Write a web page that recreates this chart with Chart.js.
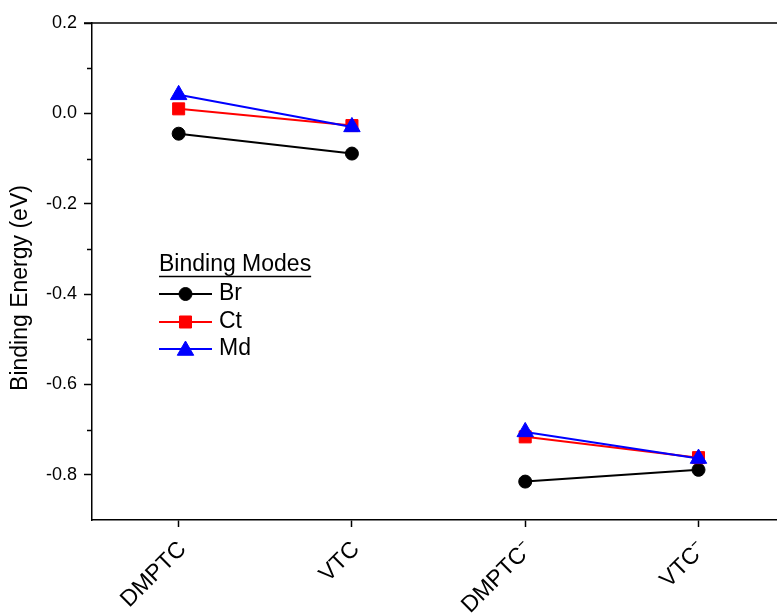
<!DOCTYPE html>
<html>
<head>
<meta charset="utf-8">
<script src="https://cdn.jsdelivr.net/npm/chart.js@4.4.1/dist/chart.umd.min.js"></script>
<style>
  html, body { margin: 0; padding: 0; background: #ffffff; }
  #wrap { width: 777px; height: 613px; }
</style>
</head>
<body>
<div id="wrap"><canvas id="chart" width="777" height="613"></canvas></div>
<script>
// Molecules on the horizontal axis
const categories = ['DMPTC', 'VTC', 'DMPTC\u207B', 'VTC\u207B'];
// Binding energies (eV) for each binding mode
const brValues = [-0.045, -0.089, -0.815, -0.789];
const ctValues = [0.010, -0.027, -0.716, -0.762];
const mdValues = [0.041, -0.030, -0.705, -0.764];
// Labelled and minor tick values on the energy axis
const yMajorTicks = [-0.8, -0.6, -0.4, -0.2, 0.0, 0.2];
const yMinorTicks = [-0.7, -0.5, -0.3, -0.1, 0.1];
const yTitle = 'Binding Energy (eV)';
const legendTitle = 'Binding Modes';

const FONT = '"Liberation Sans", Arial, sans-serif';

// Neutral and anion pairs are joined separately, so a gap sits between them
function toPoints(values) {
  return [
    { x: 0, y: values[0] },
    { x: 1, y: values[1] },
    { x: 1.5, y: null },
    { x: 2, y: values[2] },
    { x: 3, y: values[3] }
  ];
}

// Later series are painted over earlier ones
const series = [
  { label: 'Br', values: brValues, color: '#000000', style: 'circle', radius: 6.5, order: 3 },
  { label: 'Ct', values: ctValues, color: '#ff0000', style: 'rect', radius: 8.5, order: 2 },
  { label: 'Md', values: mdValues, color: '#0000ff', style: 'triangle', radius: 9.5, order: 1 }
];

// Frame line along the top, minor ticks, axis title and the legend block
const decorations = {
  id: 'decorations',
  afterDraw(chart) {
    const ctx = chart.ctx;
    const area = chart.chartArea;
    const y = chart.scales.y;
    ctx.save();
    ctx.strokeStyle = '#000000';
    ctx.lineWidth = 1.5;
    ctx.beginPath();
    ctx.moveTo(area.left - 8, area.top);
    ctx.lineTo(area.right, area.top);
    ctx.stroke();
    yMinorTicks.forEach(v => {
      const py = Math.round(y.getPixelForValue(v)) + 0.5;
      ctx.beginPath();
      ctx.moveTo(area.left - 5, py);
      ctx.lineTo(area.left, py);
      ctx.stroke();
    });

    // axis title
    ctx.save();
    ctx.translate(21, 288);
    ctx.rotate(-Math.PI / 2);
    ctx.fillStyle = '#000000';
    ctx.font = '23px ' + FONT;
    ctx.textAlign = 'center';
    ctx.textBaseline = 'middle';
    ctx.fillText(yTitle, 0, 0);
    ctx.restore();

    // legend
    const lx = 159, lw = 53, tx = 219;
    ctx.fillStyle = '#000000';
    ctx.font = '23px ' + FONT;
    ctx.textBaseline = 'middle';
    ctx.textAlign = 'left';
    ctx.fillText(legendTitle, lx, 265);
    const tw = ctx.measureText(legendTitle).width;
    ctx.strokeStyle = '#000000';
    ctx.lineWidth = 1.3;
    ctx.beginPath();
    ctx.moveTo(lx, 276.5);
    ctx.lineTo(lx + tw, 276.5);
    ctx.stroke();
    const rows = [294, 322, 349];
    chart.data.datasets.forEach((ds, i) => {
      const ry = rows[i];
      ctx.strokeStyle = ds.borderColor;
      ctx.fillStyle = ds.backgroundColor;
      ctx.lineWidth = 2;
      ctx.beginPath();
      ctx.moveTo(lx, ry);
      ctx.lineTo(lx + lw, ry);
      ctx.stroke();
      ctx.lineWidth = 1;
      Chart.helpers.drawPoint(ctx, {
        pointStyle: ds.pointStyle,
        radius: ds.pointRadius,
        borderWidth: 1,
        rotation: 0
      }, lx + lw / 2, ry + (ds.pointStyle === 'triangle' ? 1.5 : 0));
      ctx.fillStyle = '#000000';
      ctx.fillText(ds.label, tx, ry);
    });
    ctx.restore();
  }
};

new Chart(document.getElementById('chart'), {
  type: 'line',
  data: {
    datasets: series.map(s => ({
      label: s.label,
      data: toPoints(s.values),
      order: s.order,
      borderColor: s.color,
      backgroundColor: s.color,
      borderWidth: 2,
      pointStyle: s.style,
      pointRadius: s.radius,
      pointBorderWidth: 1,
      pointBackgroundColor: s.color,
      pointBorderColor: s.color,
      spanGaps: false,
      tension: 0
    }))
  },
  options: {
    responsive: false,
    animation: false,
    devicePixelRatio: 1,
    layout: { autoPadding: false, padding: { top: 23, right: 0, left: 0, bottom: 0 } },
    plugins: { legend: { display: false }, tooltip: { enabled: false } },
    scales: {
      x: {
        type: 'linear',
        min: -0.5,
        max: 3.453,
        afterBuildTicks: scale => { scale.ticks = categories.map((_, i) => ({ value: i })); },
        afterFit: scale => { scale.height = 93; scale.paddingLeft = 0; scale.paddingRight = 0; },
        grid: { drawOnChartArea: false, drawTicks: true, tickLength: 7, tickWidth: 1.5, tickColor: '#000000' },
        border: { display: true, color: '#000000', width: 1.5 },
        ticks: {
          autoSkip: false,
          minRotation: 45,
          maxRotation: 45,
          padding: 9,
          labelOffset: 4,
          color: '#000000',
          font: { family: FONT, size: 23 },
          callback: v => categories[v]
        }
      },
      y: {
        type: 'linear',
        min: -0.9,
        max: 0.2,
        afterBuildTicks: scale => { scale.ticks = yMajorTicks.map(v => ({ value: v })); },
        afterFit: scale => { scale.width = 92; },
        grid: { drawOnChartArea: false, drawTicks: true, tickLength: 8, tickWidth: 1.5, tickColor: '#000000' },
        border: { display: true, color: '#000000', width: 1.5 },
        ticks: {
          padding: 7,
          color: '#000000',
          font: { family: FONT, size: 18 },
          callback: v => v.toFixed(1)
        },
        title: { display: false }
      }
    }
  },
  plugins: [decorations]
});
</script>
</body>
</html>
